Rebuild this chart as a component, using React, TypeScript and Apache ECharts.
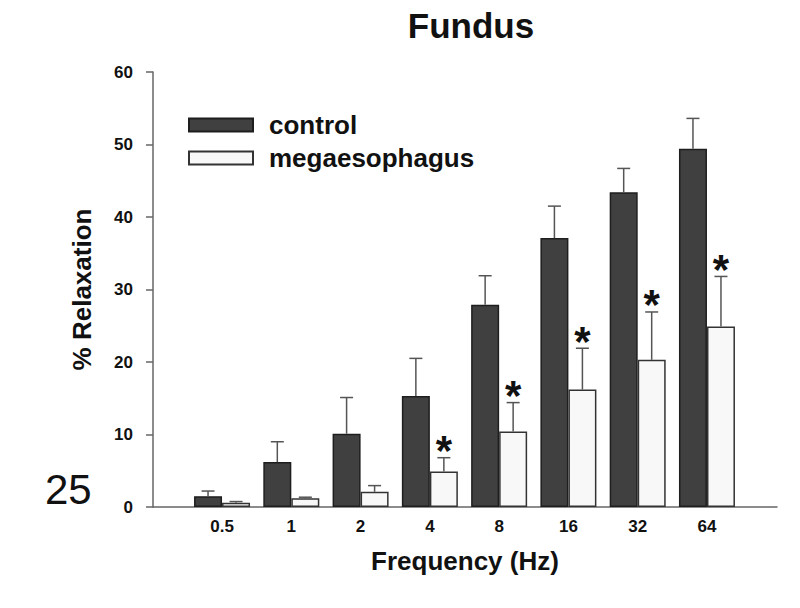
import React, { useEffect, useRef } from "react";
import * as echarts from "echarts";

const categories = ["0.5", "1", "2", "4", "8", "16", "32", "64"];
const controlMean = [1.5, 6.2, 10.1, 15.3, 27.9, 37.1, 43.4, 49.4];
const controlSem = [0.7, 2.8, 5.0, 5.2, 4.0, 4.4, 3.3, 4.2];
const megaMean = [0.6, 1.2, 2.1, 4.9, 10.4, 16.2, 20.3, 24.9];
const megaSem = [0.15, 0.15, 0.85, 1.9, 4.0, 5.7, 6.6, 6.9];
const megaSignificant = [0, 0, 0, 1, 1, 1, 1, 1];
const seriesNames = ["control", "megaesophagus"];
const titleText = "Fundus";
const yAxisName = "% Relaxation";
const xAxisName = "Frequency (Hz)";
const pageNumber = "25";
const yMin = 0;
const yMax = 60;
const yInterval = 10;

const FONT = '"Liberation Sans", Arial, sans-serif';
const BAR_W = 28;

function makeErrorRenderer(offset: number) {
  return (params: any, api: any) => {
    const i = api.value(0);
    const mean = api.value(1);
    const sem = api.value(2);
    const sig = api.value(3);
    const base = api.coord([i, mean]);
    const top = api.coord([i, mean + sem]);
    const x = base[0] + offset;
    const children: any[] = [
      {
        type: "line",
        shape: { x1: x, y1: base[1], x2: x, y2: top[1] },
        style: { stroke: "#555", lineWidth: 1.5 },
      },
      {
        type: "line",
        shape: { x1: x - 6.5, y1: top[1], x2: x + 6.5, y2: top[1] },
        style: { stroke: "#555", lineWidth: 1.5 },
      },
    ];
    if (sig) {
      children.push({
        type: "text",
        x: x,
        y: top[1] - 7,
        style: {
          text: "*",
          fontSize: 42,
          fontWeight: "bold",
          fontFamily: FONT,
          fill: "#111",
          align: "center",
          verticalAlign: "middle",
        },
      });
    }
    return { type: "group", children };
  };
}

export default function App() {
  const ref = useRef<HTMLDivElement>(null);

  useEffect(() => {
    if (!ref.current) return;
    const chart = echarts.init(ref.current, null, { renderer: "svg" });

    const ctrlErrData = categories.map((_, i) => [i, controlMean[i], controlSem[i], 0]);
    const megaErrData = categories.map((_, i) => [i, megaMean[i], megaSem[i], megaSignificant[i]]);

    const option: any = {
      animation: false,
      backgroundColor: "#ffffff",
      textStyle: { fontFamily: FONT },
      title: {
        text: titleText,
        left: 466,
        top: 3,
        textAlign: "center",
        textStyle: { fontSize: 35, fontWeight: "bold", color: "#111", fontFamily: FONT },
      },
      legend: {
        data: seriesNames,
        orient: "vertical",
        left: 188,
        top: 112,
        padding: 0,
        itemWidth: 64,
        itemHeight: 13,
        itemGap: 7,
        icon: "rect",
        textStyle: {
          fontSize: 26,
          fontWeight: "bold",
          color: "#111",
          fontFamily: FONT,
          padding: [0, 0, 0, 11],
        },
      },
      graphic: [
        {
          type: "text",
          left: 45,
          top: 468,
          style: {
            text: pageNumber,
            fontSize: 42,
            fontFamily: FONT,
            fill: "#111",
          },
        },
      ],
      grid: [
        { left: 153, right: 23, top: 72, bottom: 101 },
        { left: 187.4, right: 58.4, top: 72, bottom: 101 },
      ],
      xAxis: [
        {
          gridIndex: 0,
          type: "value",
          min: 0,
          max: 1,
          name: xAxisName,
          nameLocation: "middle",
          nameGap: 41,
          nameTextStyle: { fontSize: 26, fontWeight: "bold", color: "#111", fontFamily: FONT },
          axisLine: { show: true, lineStyle: { color: "#666", width: 1.5 } },
          axisTick: { show: false },
          axisLabel: { show: false },
          splitLine: { show: false },
        },
        {
          gridIndex: 1,
          type: "category",
          data: categories,
          axisLine: { show: false },
          axisTick: { show: false },
          axisLabel: {
            fontSize: 17,
            fontWeight: "bold",
            color: "#111",
            margin: 11,
            fontFamily: FONT,
          },
          splitLine: { show: false },
        },
      ],
      yAxis: [
        {
          gridIndex: 0,
          type: "value",
          min: yMin,
          max: yMax,
          interval: yInterval,
          name: yAxisName,
          nameLocation: "middle",
          nameGap: 58,
          nameTextStyle: { fontSize: 26, fontWeight: "bold", color: "#111", fontFamily: FONT },
          axisLine: { show: true, lineStyle: { color: "#666", width: 1.5 } },
          axisTick: { show: true, inside: false, length: 7, lineStyle: { color: "#666", width: 1.5 } },
          axisLabel: {
            fontSize: 17,
            fontWeight: "bold",
            color: "#111",
            margin: 20,
            fontFamily: FONT,
          },
          splitLine: { show: false },
        },
        {
          gridIndex: 1,
          type: "value",
          min: yMin,
          max: yMax,
          interval: yInterval,
          show: false,
          splitLine: { show: false },
        },
      ],
      series: [
        {
          name: seriesNames[0],
          type: "bar",
          xAxisIndex: 1,
          yAxisIndex: 1,
          data: controlMean,
          barWidth: BAR_W,
          barGap: "0%",
          itemStyle: { color: "#404040", borderColor: "#1e1e1e", borderWidth: 1.5 },
          z: 2,
        },
        {
          name: seriesNames[1],
          type: "bar",
          xAxisIndex: 1,
          yAxisIndex: 1,
          data: megaMean,
          barWidth: BAR_W,
          barGap: "0%",
          itemStyle: { color: "#f8f8f8", borderColor: "#333", borderWidth: 1.5 },
          z: 2,
        },
        {
          type: "custom",
          xAxisIndex: 1,
          yAxisIndex: 1,
          data: ctrlErrData,
          renderItem: makeErrorRenderer(-BAR_W / 2),
          z: 3,
          silent: true,
        },
        {
          type: "custom",
          xAxisIndex: 1,
          yAxisIndex: 1,
          data: megaErrData,
          renderItem: makeErrorRenderer(BAR_W / 2),
          z: 3,
          silent: true,
        },
      ],
    };

    chart.setOption(option);
    return () => chart.dispose();
  }, []);

  return (
    <div
      ref={ref}
      style={{ position: "fixed", left: 0, top: 0, width: 800, height: 608, background: "#fff" }}
    />
  );
}
